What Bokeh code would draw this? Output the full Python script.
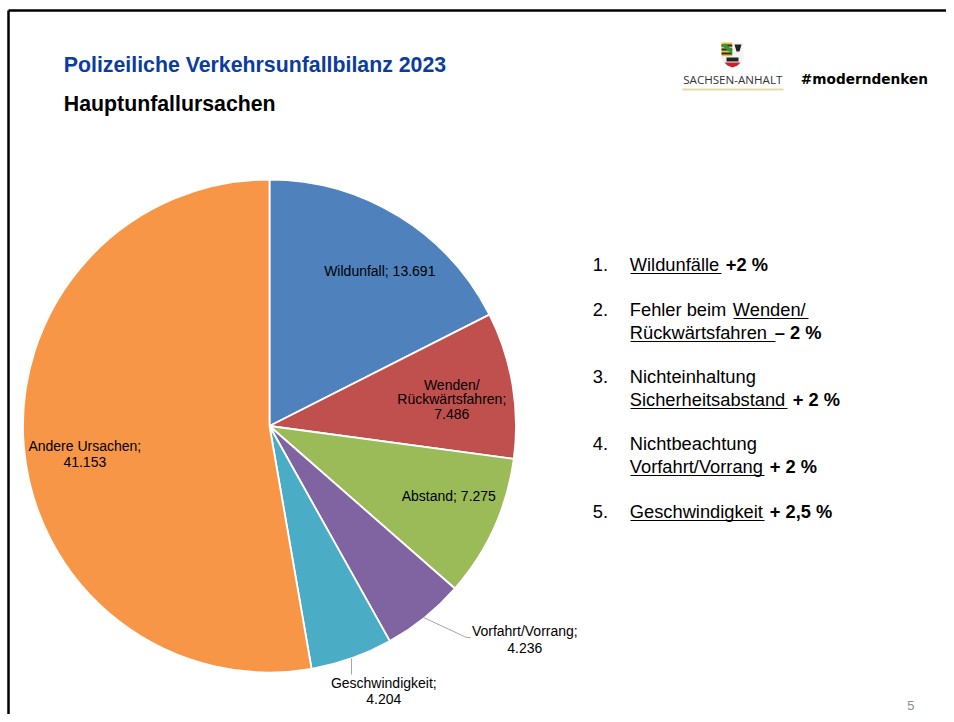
import math
from bokeh.plotting import figure
from bokeh.models import Range1d, ColumnDataSource
from bokeh.core.properties import value
from bokeh.embed import file_html
from bokeh.resources import INLINE

categories = ["Wildunfall", "Wenden/Rückwärtsfahren", "Abstand", "Vorfahrt/Vorrang", "Geschwindigkeit", "Andere Ursachen"]
values = [13691, 7486, 7275, 4236, 4204, 41153]
colors = ["#4F81BD", "#C0504D", "#9BBB59", "#8064A2", "#4BACC6", "#F79646"]

W, H = 946, 714
p = figure(width=W, height=H, output_backend="svg", toolbar_location=None,
           x_range=Range1d(0, W), y_range=Range1d(-H, 0),
           x_axis_type=None, y_axis_type=None, min_border=0,
           outline_line_color=None, background_fill_color="white", border_fill_color="white")
p.grid.visible = False

def Y(y):
    return -y

def txt(x, y, s, size, color="#000000", bold=False, align="left", font="Liberation Sans"):
    p.text([x - 0.7], [Y(y - 1)], text=[s], text_font=value(font), text_font_size=f"{size}px",
           text_color=color, text_align=align, text_baseline="middle",
           text_font_style="bold" if bold else "normal")

def line(xs, ys, color="#000000", width=1.0):
    p.line(xs, [Y(v) for v in ys], line_color=color, line_width=width)

# slide frame
line([8, 8], [714, 10], "#000000", 2.5)
line([8, 946], [10, 10], "#000000", 2.5)

# pie
cx, cy, r = 269, 425.5, 246.5
total = sum(values)
ang = math.pi / 2
starts, ends = [], []
for v in values:
    e = ang - 2 * math.pi * v / total
    starts.append(e)
    ends.append(ang)
    ang = e
src = ColumnDataSource(dict(start=starts, end=ends, color=colors))
p.wedge(x=cx, y=Y(cy), radius=r, start_angle="start", end_angle="end", fill_color="color",
        line_color="white", line_width=1.8, source=src)

# leader lines
line([423, 466, 470], [617, 637, 637], "#A6A6A6", 1)
line([351, 351], [658, 674], "#A6A6A6", 1)

# pie labels
L = 14
txt(380, 271, "Wildunfall; 13.691", L, align="center")
txt(452, 385, "Wenden/", L, align="center")
txt(452, 399, "Rückwärtsfahren;", L, align="center")
txt(452, 414, "7.486", L, align="center")
txt(449, 496, "Abstand; 7.275", L, align="center")
txt(85, 446, "Andere Ursachen;", L, align="center")
txt(85, 462, "41.153", L, align="center")
txt(525, 631, "Vorfahrt/Vorrang;", L, align="center")
txt(525, 648, "4.236", L, align="center")
txt(384, 683, "Geschwindigkeit;", L, align="center")
txt(384, 699, "4.204", L, align="center")

# titles
txt(64, 65, "Polizeiliche Verkehrsunfallbilanz 2023", 21.3, "#0B3C9E", True)
txt(64, 104, "Hauptunfallursachen", 21.3, "#000000", True)

# list
S = 18.3
def ul(x0, x1, y):
    line([x0, x1], [y, y], "#000000", 1.1)

txt(593, 265, "1.", S)
txt(630, 265, "Wildunfälle", S); ul(630, 721, 273)
txt(726, 265, "+2 %", S, bold=True)

txt(593, 310, "2.", S)
txt(630, 310, "Fehler beim ", S)
txt(733, 310, "Wenden/", S); ul(733, 808, 318)
txt(630, 333, "Rückwärtsfahren ", S); ul(630, 775, 341)
txt(775, 333, "– 2 %", S, bold=True)

txt(593, 377, "3.", S)
txt(630, 377, "Nichteinhaltung", S)
txt(630, 400, "Sicherheitsabstand", S); ul(630, 787, 408)
txt(793, 400, "+ 2 %", S, bold=True)

txt(593, 444, "4.", S)
txt(630, 444, "Nichtbeachtung", S)
txt(630, 467, "Vorfahrt/Vorrang", S); ul(630, 764, 475)
txt(770, 467, "+ 2 %", S, bold=True)

txt(593, 512, "5.", S)
txt(630, 512, "Geschwindigkeit", S); ul(630, 764, 520)
txt(770, 512, "+ 2,5 %", S, bold=True)

# page number
txt(911, 706, "5", 13, "#8C8C8C", align="center")

# logo
def box(x0, x1, y0, y1, color):
    p.quad(left=[x0], right=[x1], top=[Y(y0)], bottom=[Y(y1)], fill_color=color, line_color=None)

def poly(xs, ys, color):
    p.patch(xs, [Y(v) for v in ys], fill_color=color, line_color=None)

box(721, 732, 42, 56, "#E4C33C")
for yy in (44, 48, 52):
    box(721, 732, yy, yy + 2, "#2B2B2B")
poly([721, 725, 732, 732], [45, 43, 50, 54], "#2F9A3C")
box(732, 743, 42, 56, "#F4F4F4")
poly([734, 741, 739, 736], [44, 44, 51, 51], "#222222")
poly([721, 743, 743, 738, 732, 726, 721], [56, 56, 59, 65, 67, 65, 59], "#F2F2F2")
poly([724, 740, 737, 732, 727], [62, 62, 65, 67, 65], "#C8202A")
box(726, 738, 57, 61, "#222222")
txt(733, 80, "SACHSEN-ANHALT", 11.6, "#333333", align="center", font="Open Sans")
box(682, 783, 88, 90, "#E6DB9F")
txt(801, 79, "#moderndenken", 13.7, "#000000", True, font="DejaVu Sans")

open("out.html", "w").write(file_html(p, INLINE))
